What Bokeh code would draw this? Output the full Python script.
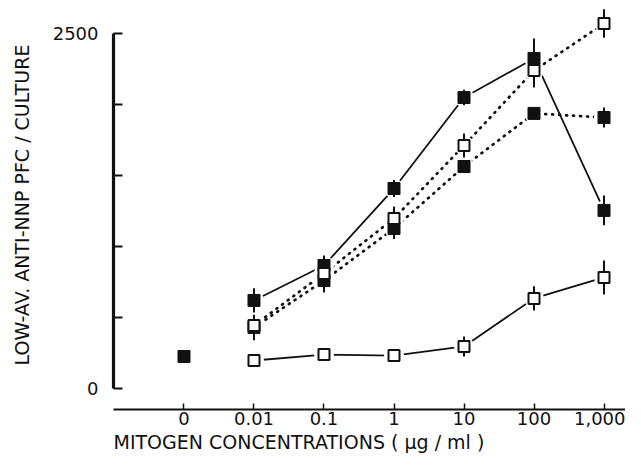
from bokeh.plotting import figure
from bokeh.models import Range1d, FixedTicker, Title
from bokeh.embed import file_html
from bokeh.resources import INLINE

# ---- data ----
categories = ["0", "0.01", "0.1", "1", "10", "100", "1,000"]
conc_idx = [1, 2, 3, 4, 5, 6]          # positions of 0.01 ... 1,000
control_idx = [0]                       # position of "0"
control_value = [225]

solid_filled = [620, 866, 1408, 2049, 2324, 1254]
solid_filled_err = [85, 70, 60, 55, 140, 105]
dotted_filled = [430, 760, 1127, 1563, 1937, 1908]
dotted_filled_err = [90, 85, 75, 45, 40, 70]
dotted_open = [444, 810, 1197, 1711, 2239, 2570]
dotted_open_err = [70, 70, 85, 85, 120, 100]
solid_open = [197, 239, 232, 296, 634, 782]
solid_open_err = [0, 0, 35, 70, 85, 120]

y_ticks = [0, 500, 1000, 1500, 2000, 2500]
y_tick_labels = {0: "0", 2500: "2500"}

FONT = "DejaVu Sans"
INK = "#111111"

p = figure(width=625, height=458, output_backend="svg", toolbar_location=None,
           x_range=Range1d(-1.007, 6.307), y_range=Range1d(-148, 2732),
           min_border_left=113, min_border_right=0, min_border_top=0,
           min_border_bottom=49)
p.outline_line_color = None
p.xgrid.visible = False
p.ygrid.visible = False
p.background_fill_color = "white"

# ---- axes ----
xa = p.xaxis[0]
xa.ticker = FixedTicker(ticks=list(range(len(categories))))
xa.major_label_overrides = {i: c for i, c in enumerate(categories)}
xa.major_tick_in = 6
xa.major_tick_out = 0
xa.minor_tick_in = 0
xa.minor_tick_out = 0
xa.axis_line_width = 2.2
xa.major_tick_line_width = 1.5
xa.axis_line_color = INK
xa.major_tick_line_color = INK
xa.major_label_standoff = 2
xa.major_label_text_font = FONT
xa.major_label_text_font_size = "18px"
xa.major_label_text_color = INK

ya = p.yaxis[0]
ya.ticker = FixedTicker(ticks=y_ticks)
ya.bounds = (y_ticks[0], y_ticks[-1])
ya.major_label_overrides = {t: y_tick_labels.get(t, "") for t in y_ticks}
ya.major_tick_in = 9
ya.major_tick_out = 0
ya.minor_tick_in = 0
ya.minor_tick_out = 0
ya.axis_line_width = 3.2
ya.major_tick_line_width = 1.8
ya.axis_line_color = INK
ya.major_tick_line_color = INK
ya.major_label_standoff = 15
ya.major_label_text_font = FONT
ya.major_label_text_font_size = "18px"
ya.major_label_text_color = INK
ya.axis_label = "LOW-AV. ANTI-NNP PFC / CULTURE"
ya.axis_label_text_font = FONT
ya.axis_label_text_font_size = "19px"
ya.axis_label_text_font_style = "normal"
ya.axis_label_text_color = INK
ya.axis_label_standoff = 17

p.add_layout(Title(text="MITOGEN CONCENTRATIONS ( \u03bcg / ml )", align="left",
                   text_font=FONT, text_font_size="19px", text_font_style="normal",
                   text_color=INK, standoff=2, offset=0), "below")

# ---- lines ----
p.line(conc_idx, solid_filled, line_color=INK, line_width=1.8)
p.line(conc_idx, solid_open, line_color=INK, line_width=1.8)
p.line(conc_idx, dotted_filled, line_color=INK, line_width=2.7,
       line_dash="1 6", line_cap="round")
p.line(conc_idx, dotted_open, line_color=INK, line_width=2.7,
       line_dash="1 6", line_cap="round")

# ---- white halos (gaps between lines and markers) ----
for ys in (solid_filled, solid_open, dotted_filled, dotted_open):
    p.scatter(conc_idx, ys, marker="circle", size=20, fill_color="white",
              line_color=None)

# ---- error bars ----
for ys, es in ((solid_filled, solid_filled_err), (dotted_filled, dotted_filled_err),
               (dotted_open, dotted_open_err), (solid_open, solid_open_err)):
    lo = [y - e for y, e in zip(ys, es)]
    hi = [y + e for y, e in zip(ys, es)]
    p.segment(x0=conc_idx, y0=lo, x1=conc_idx, y1=hi, line_color=INK,
              line_width=2)

# ---- markers ----
p.scatter(control_idx, control_value, marker="square", size=12,
          fill_color=INK, line_color=INK)
p.scatter(conc_idx, solid_filled, marker="square", size=12,
          fill_color=INK, line_color=INK)
p.scatter(conc_idx, dotted_filled, marker="square", size=12,
          fill_color=INK, line_color=INK)
p.scatter(conc_idx, dotted_open, marker="square", size=11,
          fill_color="white", line_color=INK, line_width=2)
p.scatter(conc_idx, solid_open, marker="square", size=11,
          fill_color="white", line_color=INK, line_width=2)

open("out.html", "w").write(file_html(p, INLINE))
